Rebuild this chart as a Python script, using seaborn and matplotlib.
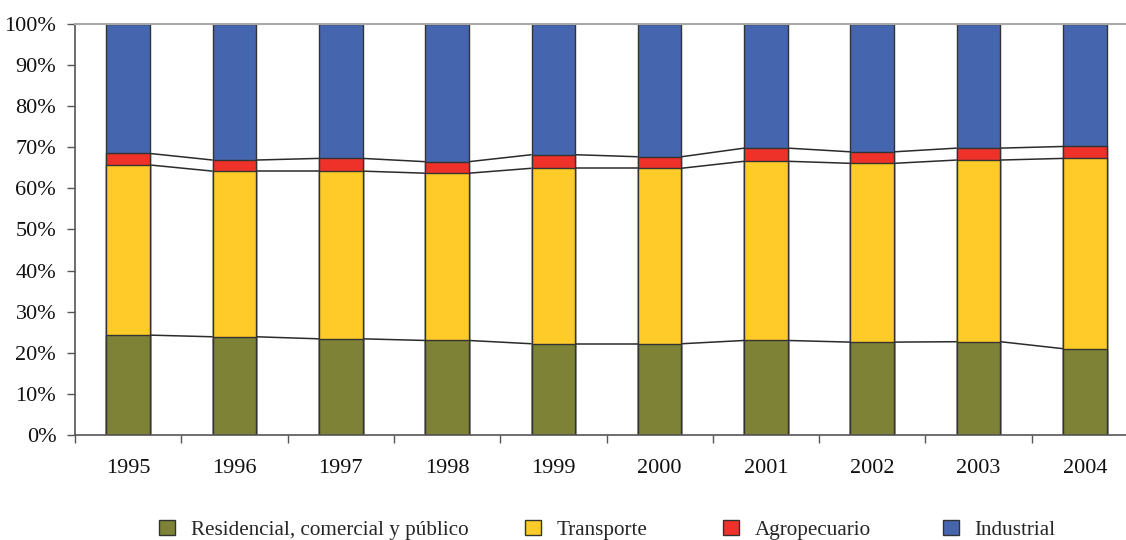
import numpy as np
import pandas as pd
import matplotlib
matplotlib.use("Agg")
import matplotlib.pyplot as plt
from matplotlib.patches import Patch
import seaborn as sns

years = ["1995", "1996", "1997", "1998", "1999", "2000", "2001", "2002", "2003", "2004"]
residencial = [24.3, 23.9, 23.4, 23.0, 22.2, 22.2, 23.0, 22.6, 22.7, 21.0]
transporte = [41.4, 40.3, 40.8, 40.7, 42.7, 42.7, 43.6, 43.5, 44.2, 46.3]
agropecuario = [2.8, 2.7, 3.1, 2.8, 3.3, 2.8, 3.2, 2.8, 2.9, 2.9]
industrial = [100 - r - t - a for r, t, a in zip(residencial, transporte, agropecuario)]

series_names = ["Residencial, comercial y público", "Transporte", "Agropecuario", "Industrial"]
colors = ["#7E8236", "#FFCB29", "#EE3229", "#4565AE"]

sns.set_theme(style="white")
plt.rcParams["font.family"] = ["Liberation Serif", "DejaVu Serif"]

df = pd.DataFrame({"year": years, "res": residencial, "tra": transporte,
                   "agr": agropecuario, "ind": industrial})
df["c1"] = df["res"]
df["c2"] = df["c1"] + df["tra"]
df["c3"] = df["c2"] + df["agr"]
df["c4"] = df["c3"] + df["ind"]

fig = plt.figure(figsize=(11.26, 5.40), dpi=100)
ax = fig.add_axes([75 / 1126, 105 / 540, 1063 / 1126, 411 / 540])

bw = 0.41
for col, color in zip(["c4", "c3", "c2", "c1"], colors[::-1]):
    sns.barplot(data=df, x="year", y=col, color=color, width=bw, saturation=1,
                edgecolor="#333333", linewidth=1.0, ax=ax, zorder=2)

# series lines connecting stacked boundaries between adjacent bars
xs = np.arange(len(years))
for col in ["c1", "c2", "c3"]:
    vals = df[col].to_numpy()
    for i in range(len(years) - 1):
        ax.plot([xs[i] + bw / 2, xs[i + 1] - bw / 2], [vals[i], vals[i + 1]],
                color="#2b2b2b", lw=1.1, zorder=1, solid_capstyle="butt")

ax.set_xlim(-0.5, len(years) - 0.5)
ax.set_ylim(0, 100)
ax.set_yticks(np.arange(0, 101, 10))
ax.set_yticklabels([f"{v}%" for v in range(0, 101, 10)], fontsize=16, color="#111111")
ax.set_xticks(xs)
ax.set_xticklabels(years, fontsize=16, color="#111111")
ax.set_xticks(np.arange(-0.5, len(years), 1.0), minor=True)
ax.tick_params(axis="x", which="major", length=0, pad=17)
ax.tick_params(axis="x", which="minor", length=6, width=1, color="#555555", direction="out", bottom=True)
ax.tick_params(axis="y", which="major", length=6, width=1, color="#555555", direction="out", left=True, pad=7.5)
ax.set_xlabel("")
ax.set_ylabel("")

for s in ["left", "bottom"]:
    ax.spines[s].set_color("#555555")
    ax.spines[s].set_linewidth(1.2)
ax.spines["top"].set_visible(True)
ax.spines["top"].set_color("#a8a8a8")
ax.spines["top"].set_linewidth(1.5)
ax.spines["right"].set_visible(False)
ax.grid(False)

# one legend entry per series, placed like the reference's spaced-out legend row
legend_x = [159, 525, 723, 943]
for name, c, lx in zip(series_names, colors, legend_x):
    leg = fig.legend([Patch(facecolor=c, edgecolor="#333333", linewidth=1.0)], [name],
                     loc="center left", bbox_to_anchor=(lx / 1126, 10 / 540),
                     frameon=False, fontsize=15.2, handlelength=0.75, handleheight=0.75,
                     handletextpad=0.75, borderpad=0, borderaxespad=0)

fig.savefig("out.png", dpi=100)
